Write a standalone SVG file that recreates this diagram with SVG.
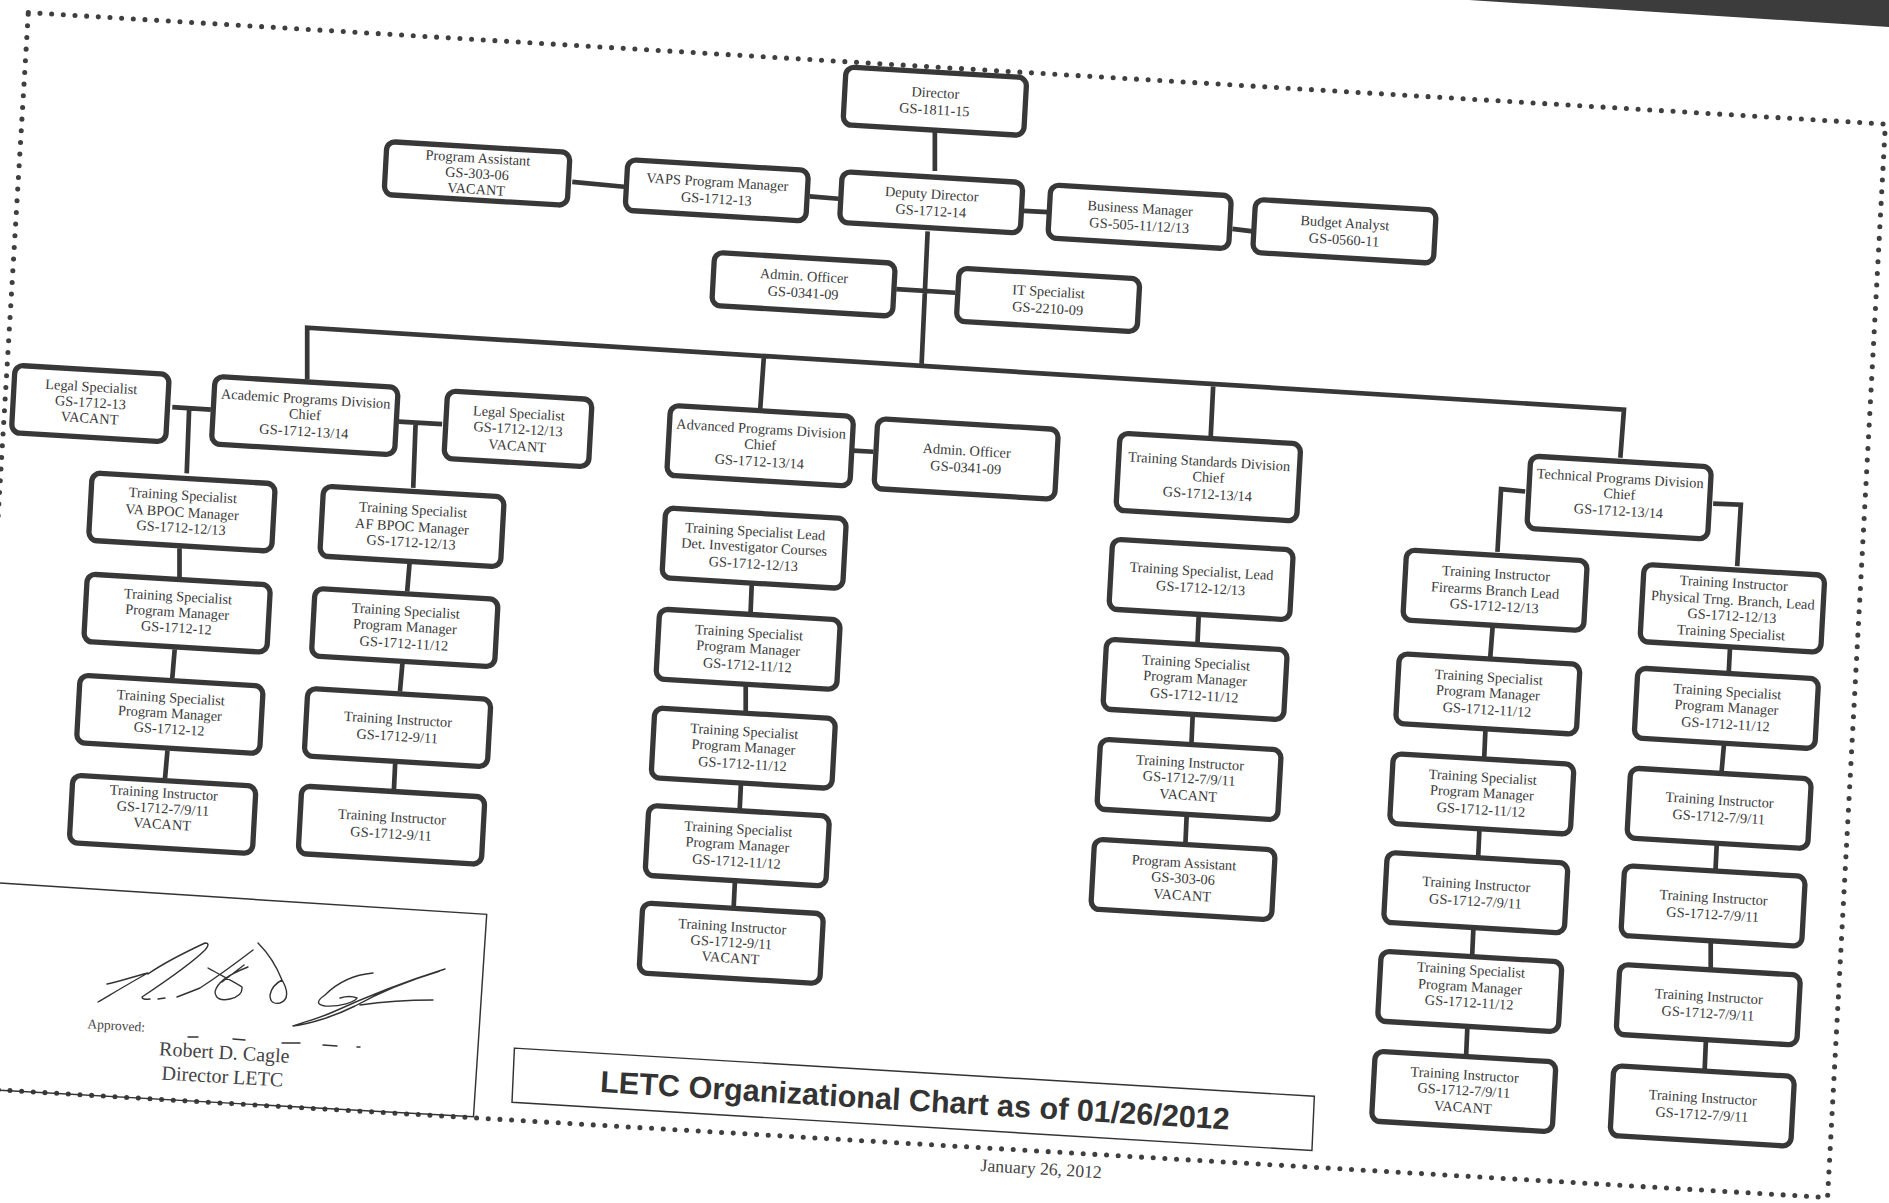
<svg xmlns="http://www.w3.org/2000/svg" width="1889" height="1203" viewBox="0 0 1889 1203">
<style>
.n rect{fill:#fff;stroke:#383838;stroke-width:4.4}
.n text{font:11.9px "Liberation Serif","Times New Roman",serif;fill:#3a3a3a;text-anchor:middle}
#connectors path{fill:none;stroke:#383838;stroke-width:3.9}
#frame{fill:none;stroke:#3f3f3f;stroke-width:4.2;stroke-linecap:round;stroke-dasharray:0 9.7}
.thin{fill:none;stroke:#333;stroke-width:1.2}
.sig{fill:none;stroke:#333;stroke-width:1.4;stroke-linecap:round;stroke-linejoin:round}
.lbl{font-family:"Liberation Serif","Times New Roman",serif;fill:#444;text-anchor:middle}
</style>
<rect width="1889" height="1203" fill="#fff"/>
<polygon points="1469,0 1889,27 1889,0" fill="#3c3c3c"/>
<g transform="scale(1.20472)">
<polygon id="frame" points="23.5,10.5 1565,103 1517,994 -30,903"/>
<g id="connectors">
<path d="M776,108V142M672,163L696,165M475,151L518,155M850,175L870,176M1023,190L1040,192M770,192L765,302M744,240L793,243"/>
<path d="M255,315L255,272L1348,340L1345,380M634,297L631,340M1007,321L1005,362"/>
<path d="M143,338L175,340M157,339L155,393M331,350L367,352M345,351L343,405M708,374L725,375"/>
<path d="M1266,408L1246,406L1243,458M1422,418L1445,419L1442,470"/>
<path d="M149,455L149,479M145,539L143,563M139,623L137,646"/>
<path d="M340,467L338,491M334,551L332,574M328,634L327,655"/>
<path d="M624,485L623,509M619,569L619,591M615,651L614,672M610,732L609,753"/>
<path d="M995,511L994,534M990,594L989,617M985,677L984,700"/>
<path d="M1239,520L1237,546M1233,606L1232,629M1228,689L1227,711M1223,771L1222,793M1218,853L1217,876"/>
<path d="M1436,538L1435,558M1431,618L1429,641M1425,701L1424,722M1420,782L1420,804M1416,864L1415,888"/>
</g>
<g id="n-director" class="n" transform="matrix(1 .06 -.055 1 776 84)"><rect x="-75" y="-24" width="150" height="48" rx="7"/><text y="-3">Director</text><text y="11">GS-1811-15</text></g>
<g id="n-prog-assist" class="n" transform="matrix(1 .06 -.055 1 396 144)"><rect x="-76" y="-22" width="152" height="44" rx="7"/><text y="-9">Program Assistant</text><text y="4">GS-303-06</text><text y="17">VACANT</text></g>
<g id="n-vaps" class="n" transform="matrix(1 .06 -.055 1 595 158)"><rect x="-75" y="-21" width="150" height="42" rx="7"/><text y="-3">VAPS Program Manager</text><text y="11">GS-1712-13</text></g>
<g id="n-deputy" class="n" transform="matrix(1 .06 -.055 1 773 168)"><rect x="-75" y="-21" width="150" height="42" rx="7"/><text y="-3">Deputy Director</text><text y="11">GS-1712-14</text></g>
<g id="n-business" class="n" transform="matrix(1 .06 -.055 1 946 180)"><rect x="-75" y="-22" width="150" height="44" rx="7"/><text y="-3">Business Manager</text><text y="11">GS-505-11/12/13</text></g>
<g id="n-budget" class="n" transform="matrix(1 .06 -.055 1 1116 192)"><rect x="-75" y="-22" width="150" height="44" rx="7"/><text y="-3">Budget Analyst</text><text y="11">GS-0560-11</text></g>
<g id="n-admin1" class="n" transform="matrix(1 .06 -.055 1 667 236)"><rect x="-75" y="-22" width="150" height="44" rx="7"/><text y="-3">Admin. Officer</text><text y="11">GS-0341-09</text></g>
<g id="n-it" class="n" transform="matrix(1 .06 -.055 1 870 249)"><rect x="-75" y="-22" width="150" height="44" rx="7"/><text y="-3">IT Specialist</text><text y="11">GS-2210-09</text></g>
<g id="n-legal-l" class="n" transform="matrix(1 .06 -.055 1 75 335)"><rect x="-64" y="-28" width="128" height="56" rx="7"/><text y="-10">Legal Specialist</text><text y="3">GS-1712-13</text><text y="16">VACANT</text></g>
<g id="n-academic" class="n" transform="matrix(1 .06 -.055 1 253 345)"><rect x="-76" y="-28" width="152" height="56" rx="7"/><text y="-10">Academic Programs Division</text><text y="3">Chief</text><text y="17">GS-1712-13/14</text></g>
<g id="n-legal-r" class="n" transform="matrix(1 .06 -.055 1 430 356)"><rect x="-60" y="-28" width="120" height="56" rx="7"/><text y="-9">Legal Specialist</text><text y="4">GS-1712-12/13</text><text y="18">VACANT</text></g>
<g id="n-advanced" class="n" transform="matrix(1 .06 -.055 1 631 370)"><rect x="-76" y="-29" width="152" height="58" rx="7"/><text y="-10">Advanced Programs Division</text><text y="3">Chief</text><text y="17">GS-1712-13/14</text></g>
<g id="n-admin2" class="n" transform="matrix(1 .06 -.055 1 802 381)"><rect x="-75" y="-29" width="150" height="58" rx="7"/><text y="-3">Admin. Officer</text><text y="11">GS-0341-09</text></g>
<g id="n-standards" class="n" transform="matrix(1 .06 -.055 1 1003 396)"><rect x="-75" y="-32" width="150" height="64" rx="7"/><text y="-9">Training Standards Division</text><text y="4">Chief</text><text y="18">GS-1712-13/14</text></g>
<g id="n-technical" class="n" transform="matrix(1 .06 -.055 1 1344 413)"><rect x="-75" y="-30" width="150" height="60" rx="7"/><text y="-12">Technical Programs Division</text><text y="1">Chief</text><text y="15">GS-1712-13/14</text></g>

<g id="n-a1" class="n" transform="matrix(1 .06 -.055 1 151 425)"><rect x="-76" y="-28" width="152" height="56" rx="7"/><text y="-10">Training Specialist</text><text y="4">VA BPOC Manager</text><text y="17">GS-1712-12/13</text></g>
<g id="n-a2" class="n" transform="matrix(1 .06 -.055 1 147 509)"><rect x="-76" y="-28" width="152" height="56" rx="7"/><text y="-10">Training Specialist</text><text y="3">Program Manager</text><text y="16">GS-1712-12</text></g>
<g id="n-a3" class="n" transform="matrix(1 .06 -.055 1 141 593)"><rect x="-76" y="-28" width="152" height="56" rx="7"/><text y="-10">Training Specialist</text><text y="3">Program Manager</text><text y="16">GS-1712-12</text></g>
<g id="n-a4" class="n" transform="matrix(1 .06 -.055 1 135 676)"><rect x="-76" y="-28" width="152" height="56" rx="7"/><text y="-14">Training Instructor</text><text y="-1">GS-1712-7/9/11</text><text y="12">VACANT</text></g>

<g id="n-b1" class="n" transform="matrix(1 .06 -.055 1 342 437)"><rect x="-75" y="-29" width="150" height="58" rx="7"/><text y="-10">Training Specialist</text><text y="4">AF BPOC Manager</text><text y="17">GS-1712-12/13</text></g>
<g id="n-b2" class="n" transform="matrix(1 .06 -.055 1 336 521)"><rect x="-76" y="-28" width="152" height="56" rx="7"/><text y="-10">Training Specialist</text><text y="3">Program Manager</text><text y="17">GS-1712-11/12</text></g>
<g id="n-b3" class="n" transform="matrix(1 .06 -.055 1 330 604)"><rect x="-76" y="-28" width="152" height="56" rx="7"/><text y="-3">Training Instructor</text><text y="11">GS-1712-9/11</text></g>
<g id="n-b4" class="n" transform="matrix(1 .06 -.055 1 325 685)"><rect x="-76" y="-28" width="152" height="56" rx="7"/><text y="-3">Training Instructor</text><text y="11">GS-1712-9/11</text></g>

<g id="n-c1" class="n" transform="matrix(1 .06 -.055 1 626 455)"><rect x="-75" y="-29" width="150" height="58" rx="7"/><text y="-10">Training Specialist Lead</text><text y="3">Det. Investigator Courses</text><text y="17">GS-1712-12/13</text></g>
<g id="n-c2" class="n" transform="matrix(1 .06 -.055 1 621 539)"><rect x="-75" y="-29" width="150" height="58" rx="7"/><text y="-10">Training Specialist</text><text y="3">Program Manager</text><text y="17">GS-1712-11/12</text></g>
<g id="n-c3" class="n" transform="matrix(1 .06 -.055 1 617 621)"><rect x="-75" y="-29" width="150" height="58" rx="7"/><text y="-10">Training Specialist</text><text y="3">Program Manager</text><text y="17">GS-1712-11/12</text></g>
<g id="n-c4" class="n" transform="matrix(1 .06 -.055 1 612 702)"><rect x="-75" y="-29" width="150" height="58" rx="7"/><text y="-10">Training Specialist</text><text y="3">Program Manager</text><text y="17">GS-1712-11/12</text></g>
<g id="n-c5" class="n" transform="matrix(1 .06 -.055 1 607 783)"><rect x="-75" y="-29" width="150" height="58" rx="7"/><text y="-10">Training Instructor</text><text y="3">GS-1712-9/11</text><text y="16">VACANT</text></g>

<g id="n-d1" class="n" transform="matrix(1 .06 -.055 1 997 481)"><rect x="-75" y="-29" width="150" height="58" rx="7"/><text y="-3">Training Specialist, Lead</text><text y="11">GS-1712-12/13</text></g>
<g id="n-d2" class="n" transform="matrix(1 .06 -.055 1 992 564)"><rect x="-75" y="-29" width="150" height="58" rx="7"/><text y="-10">Training Specialist</text><text y="3">Program Manager</text><text y="17">GS-1712-11/12</text></g>
<g id="n-d3" class="n" transform="matrix(1 .06 -.055 1 987 647)"><rect x="-75" y="-29" width="150" height="58" rx="7"/><text y="-10">Training Instructor</text><text y="3">GS-1712-7/9/11</text><text y="17">VACANT</text></g>
<g id="n-d4" class="n" transform="matrix(1 .06 -.055 1 982 730)"><rect x="-75" y="-29" width="150" height="58" rx="7"/><text y="-10">Program Assistant</text><text y="3">GS-303-06</text><text y="17">VACANT</text></g>

<g id="n-e1" class="n" transform="matrix(1 .06 -.055 1 1241 490)"><rect x="-75" y="-29" width="150" height="58" rx="7"/><text y="-10">Training Instructor</text><text y="4">Firearms Branch Lead</text><text y="17">GS-1712-12/13</text></g>
<g id="n-e2" class="n" transform="matrix(1 .06 -.055 1 1235 576)"><rect x="-75" y="-29" width="150" height="58" rx="7"/><text y="-10">Training Specialist</text><text y="3">Program Manager</text><text y="17">GS-1712-11/12</text></g>
<g id="n-e3" class="n" transform="matrix(1 .06 -.055 1 1230 659)"><rect x="-75" y="-29" width="150" height="58" rx="7"/><text y="-10">Training Specialist</text><text y="3">Program Manager</text><text y="17">GS-1712-11/12</text></g>
<g id="n-e4" class="n" transform="matrix(1 .06 -.055 1 1225 741)"><rect x="-75" y="-29" width="150" height="58" rx="7"/><text y="-3">Training Instructor</text><text y="11">GS-1712-7/9/11</text></g>
<g id="n-e5" class="n" transform="matrix(1 .06 -.055 1 1220 823)"><rect x="-75" y="-29" width="150" height="58" rx="7"/><text y="-14">Training Specialist</text><text y="0">Program Manager</text><text y="13">GS-1712-11/12</text></g>
<g id="n-e6" class="n" transform="matrix(1 .06 -.055 1 1215 906)"><rect x="-75" y="-29" width="150" height="58" rx="7"/><text y="-10">Training Instructor</text><text y="3">GS-1712-7/9/11</text><text y="17">VACANT</text></g>

<g id="n-f1" class="n" transform="matrix(1 .06 -.055 1 1438 505)"><rect x="-75" y="-32" width="150" height="64" rx="7"/><text y="-17">Training Instructor</text><text y="-3">Physical Trng. Branch, Lead</text><text y="10">GS-1712-12/13</text><text y="24">Training Specialist</text></g>
<g id="n-f2" class="n" transform="matrix(1 .06 -.055 1 1433 588)"><rect x="-75" y="-29" width="150" height="58" rx="7"/><text y="-10">Training Specialist</text><text y="3">Program Manager</text><text y="17">GS-1712-11/12</text></g>
<g id="n-f3" class="n" transform="matrix(1 .06 -.055 1 1427 671)"><rect x="-75" y="-29" width="150" height="58" rx="7"/><text y="-3">Training Instructor</text><text y="11">GS-1712-7/9/11</text></g>
<g id="n-f4" class="n" transform="matrix(1 .06 -.055 1 1422 752)"><rect x="-75" y="-29" width="150" height="58" rx="7"/><text y="-3">Training Instructor</text><text y="11">GS-1712-7/9/11</text></g>
<g id="n-f5" class="n" transform="matrix(1 .06 -.055 1 1418 834)"><rect x="-75" y="-29" width="150" height="58" rx="7"/><text y="-3">Training Instructor</text><text y="11">GS-1712-7/9/11</text></g>
<g id="n-f6" class="n" transform="matrix(1 .06 -.055 1 1413 918)"><rect x="-75" y="-29" width="150" height="58" rx="7"/><text y="-3">Training Instructor</text><text y="11">GS-1712-7/9/11</text></g>

<g id="title">
<polygon class="thin" points="427,870 1091,910 1089,955 425,915" style="fill:#fff"/>
<text transform="translate(759,922) rotate(3.4)" text-anchor="middle" style="font:bold 25.4px 'Liberation Sans',Arial,sans-serif;fill:#333">LETC Organizational Chart as of 01/26/2012</text>
</g>
<text class="lbl" transform="translate(864,975) rotate(3.4)" font-size="14.7">January 26, 2012</text>
<polyline class="thin" points="0,733 404,759 393,927 0,905"/>
</g>
<g id="signature">
<path class="sig" d="M98,1002C115,992 135,980 148,973C135,976 118,982 107,984M148,974C165,962 190,950 205,943Q211,943 205,950C190,965 160,985 142,997Q142,1000 150,999M158,999L165,998M177,997Q190,992 200,988C220,975 240,960 253,950M222,982L244,965M208,968C220,975 235,982 242,987Q243,996 230,999Q216,1002 215,992C217,980 235,972 248,967M258,943C270,955 278,970 282,980C288,990 289,1000 280,1003Q270,1005 270,995Q272,985 282,980M373,973C350,975 335,985 325,995Q312,1004 325,1006C340,1007 355,1002 357,998Q350,995 340,998M445,969C410,980 370,995 333,1012C315,1020 300,1023 293,1026C310,1024 335,1016 355,1006C380,992 410,980 440,971M360,1005Q395,1000 433,1000M188,1037H198M233,1039L245,1040M282,1043L300,1043M323,1045L337,1046M357,1047L360,1047"/>
<text class="lbl" transform="translate(116,1030) rotate(3.4)" font-size="13.5">Approved:</text>
<text class="lbl" transform="translate(224,1059) rotate(3.4)" font-size="20">Robert D. Cagle</text>
<text class="lbl" transform="translate(222,1083) rotate(3.4)" font-size="20">Director LETC</text>
</g>
</svg>
